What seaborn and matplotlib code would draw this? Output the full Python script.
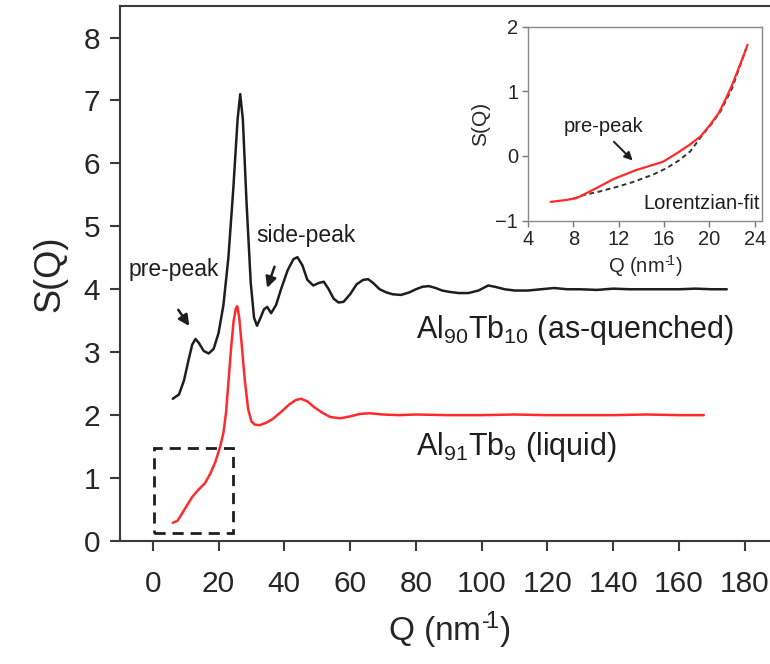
import numpy as np
import pandas as pd
import matplotlib
matplotlib.use("Agg")
import matplotlib.pyplot as plt
import seaborn as sns
from matplotlib.patches import Rectangle

# Al90Tb10 (as-quenched) S(Q)
q_quenched = [6.1, 8, 9.5, 11, 12, 13, 14, 15.5, 17, 18.5, 20, 21.5, 23, 24.5, 25.8, 26.6,
              27.4, 28.5, 29.8, 30.8, 31.7, 32.8, 33.8, 34.8, 36, 37.5, 39, 41, 42.8, 44,
              45.5, 47, 48.8, 50.5, 52, 53.5, 55, 56.5, 58, 60, 62, 64, 65.5, 67, 69, 71,
              73, 75.5, 78, 80, 82, 84, 86, 88, 90, 93, 96, 99, 102, 104, 107, 110, 114,
              118, 122, 126, 130, 135, 140, 145, 150, 155, 160, 165, 170, 174.5]
s_quenched = [2.26, 2.33, 2.55, 2.9, 3.12, 3.21, 3.15, 3.02, 2.98, 3.05, 3.3, 3.75, 4.5, 5.6,
              6.7, 7.10, 6.7, 5.4, 4.1, 3.55, 3.42, 3.55, 3.68, 3.72, 3.62, 3.75, 4.0, 4.3,
              4.48, 4.51, 4.38, 4.15, 4.06, 4.1, 4.12, 4.0, 3.85, 3.79, 3.8, 3.92, 4.08, 4.15,
              4.16, 4.1, 4.0, 3.95, 3.92, 3.91, 3.95, 4.0, 4.04, 4.05, 4.02, 3.98, 3.96, 3.94,
              3.94, 3.98, 4.06, 4.04, 4.0, 3.98, 3.98, 4.0, 4.02, 4.0, 4.0, 3.99, 4.01, 4.0,
              4.0, 4.0, 4.0, 4.01, 4.0, 4.0]

# Al91Tb9 (liquid) S(Q)
q_liquid = [6.1, 7.5, 8.5, 10, 12, 14, 15.9, 17.5, 19, 20.5, 21.5, 22.3, 23, 23.8, 24.6, 25.3,
            25.7, 26.3, 27, 28, 29, 30, 31, 32.5, 34.5, 36.5, 39, 41.5, 43.5, 45, 47, 49,
            51.5, 54, 57, 60, 63, 66, 70, 75, 80, 90, 100, 110, 120, 130, 140, 150, 160, 167.5]
s_liquid = [0.29, 0.32, 0.40, 0.53, 0.70, 0.82, 0.92, 1.07, 1.25, 1.5, 1.72, 2.05, 2.51, 3.05,
            3.5, 3.7, 3.73, 3.55, 3.15, 2.55, 2.1, 1.9, 1.85, 1.84, 1.88, 1.94, 2.05, 2.17,
            2.24, 2.26, 2.22, 2.13, 2.04, 1.97, 1.95, 1.98, 2.02, 2.03, 2.01, 2.0, 2.01, 2.0,
            2.0, 2.01, 2.0, 2.0, 2.0, 2.01, 2.0, 2.0]

# inset: low-Q part of the liquid curve and its Lorentzian fit
q_inset = [6.0, 7.4, 8.3, 10, 11.5, 13.5, 15.9, 17.2, 18.3, 19.2, 20.0, 20.8, 21.4, 22.0,
           22.4, 23.0, 23.35]
s_inset = [-0.71, -0.68, -0.65, -0.50, -0.36, -0.22, -0.09, 0.05, 0.18, 0.30, 0.47, 0.66,
           0.87, 1.10, 1.28, 1.55, 1.72]
q_fit = [8.0, 9, 10.3, 12, 13.3, 15, 16.2, 17.3, 18.3, 19.4, 20.2, 21, 22, 23.2]
s_fit = [-0.66, -0.60, -0.55, -0.47, -0.40, -0.29, -0.19, -0.07, 0.07, 0.33, 0.50, 0.70,
         1.05, 1.65]

main_xticks = list(range(0, 181, 20))
main_yticks = list(range(0, 9))
inset_xticks = [4, 8, 12, 16, 20, 24]
inset_yticks = [-1, 0, 1, 2]

sns.set_style("ticks")
plt.rcParams['font.family'] = ['Liberation Sans', 'DejaVu Sans']
plt.rcParams['mathtext.fontset'] = 'custom'
plt.rcParams['mathtext.rm'] = 'Liberation Sans'
plt.rcParams['mathtext.it'] = 'Liberation Sans'

RED = "#ff2b2b"
INK = "#1e1e1e"
SPINE = "#3a3a3a"
QLABEL = "Q (nm$^{\u2010\\!1}$)"   # short hyphen in the exponent, as in the original

fig = plt.figure(figsize=(7.7, 6.64), dpi=100)
# main axes run past the right edge of the picture, like the cropped original
ax = fig.add_axes([0.1556, 0.1852, 0.8545, 0.8057])

df_q = pd.DataFrame({"Q": q_quenched, "S": s_quenched})
df_l = pd.DataFrame({"Q": q_liquid, "S": s_liquid})
sns.lineplot(data=df_q, x="Q", y="S", ax=ax, color=INK, lw=1.8, sort=False)
sns.lineplot(data=df_l, x="Q", y="S", ax=ax, color=RED, lw=1.8, sort=False)

ax.add_patch(Rectangle((0.5, 0.13), 24, 1.35, fill=False, ec=INK, lw=2,
                       ls=(0, (4, 2.5))))

ax.set_xlim(-10, 190)
ax.set_ylim(0, 8.5)
ax.set_xticks(main_xticks)
ax.set_yticks(main_yticks)
ax.tick_params(axis="both", labelsize=21.5, direction="out", length=7, width=1.5,
               color=SPINE)
ax.tick_params(axis="x", pad=14)
ax.tick_params(axis="y", pad=7)
for sp in ax.spines.values():
    sp.set_color(SPINE)
    sp.set_linewidth(1.5)
ax.set_xlabel(QLABEL, fontsize=24, labelpad=8)
ax.set_ylabel("S(Q)", fontsize=26, labelpad=12)

ax.text(6.3, 4.31, "pre-peak", fontsize=16.5, ha="center", va="center", color=INK)
ax.annotate("", xy=(11.6, 3.38), xytext=(7.3, 3.71),
            arrowprops=dict(arrowstyle="-|>", lw=1.8, color=INK, mutation_scale=16))
ax.text(46.7, 4.85, "side-peak", fontsize=16.5, ha="center", va="center", color=INK)
ax.annotate("", xy=(34.5, 3.98), xytext=(37.3, 4.40),
            arrowprops=dict(arrowstyle="-|>", lw=1.8, color=INK, mutation_scale=16))
ax.text(80.0, 3.23, "Al$_{90}$Tb$_{10}$ (as-quenched)", fontsize=22, ha="left",
        va="baseline", color=INK)
ax.text(80.0, 1.37, "Al$_{91}$Tb$_{9}$ (liquid)", fontsize=22, ha="left",
        va="baseline", color=INK)

# inset
ins = fig.add_axes([0.6857, 0.6677, 0.3035, 0.2922])
df_i = pd.DataFrame({"Q": q_inset, "S": s_inset})
df_f = pd.DataFrame({"Q": q_fit, "S": s_fit})
sns.lineplot(data=df_f, x="Q", y="S", ax=ins, color="#333333", lw=1.4, ls=(0, (2.5, 1.8)),
             sort=False)
sns.lineplot(data=df_i, x="Q", y="S", ax=ins, color=RED, lw=1.6, sort=False)
ins.set_xlim(4, 24.6)
ins.set_ylim(-1, 2)
ins.set_xticks(inset_xticks)
ins.set_yticks(inset_yticks)
ins.tick_params(axis="both", labelsize=14.5, direction="out", length=4, width=1,
                color="#777777", pad=3)
for sp in ins.spines.values():
    sp.set_color("#8a8a8a")
    sp.set_linewidth(1)
ins.set_xlabel(QLABEL, fontsize=14.5, labelpad=3)
ins.set_ylabel("S(Q)", fontsize=15, labelpad=4)
ins.text(10.7, 0.45, "pre-peak", fontsize=14.5, ha="center", va="center", color=INK)
ins.annotate("", xy=(13.4, -0.10), xytext=(11.4, 0.25),
             arrowprops=dict(arrowstyle="-|>", lw=1.4, color=INK, mutation_scale=12))
ins.text(24.4, -0.74, "Lorentzian-fit", fontsize=14.5, ha="right", va="center", color=INK)

fig.savefig("out.png", dpi=100)
